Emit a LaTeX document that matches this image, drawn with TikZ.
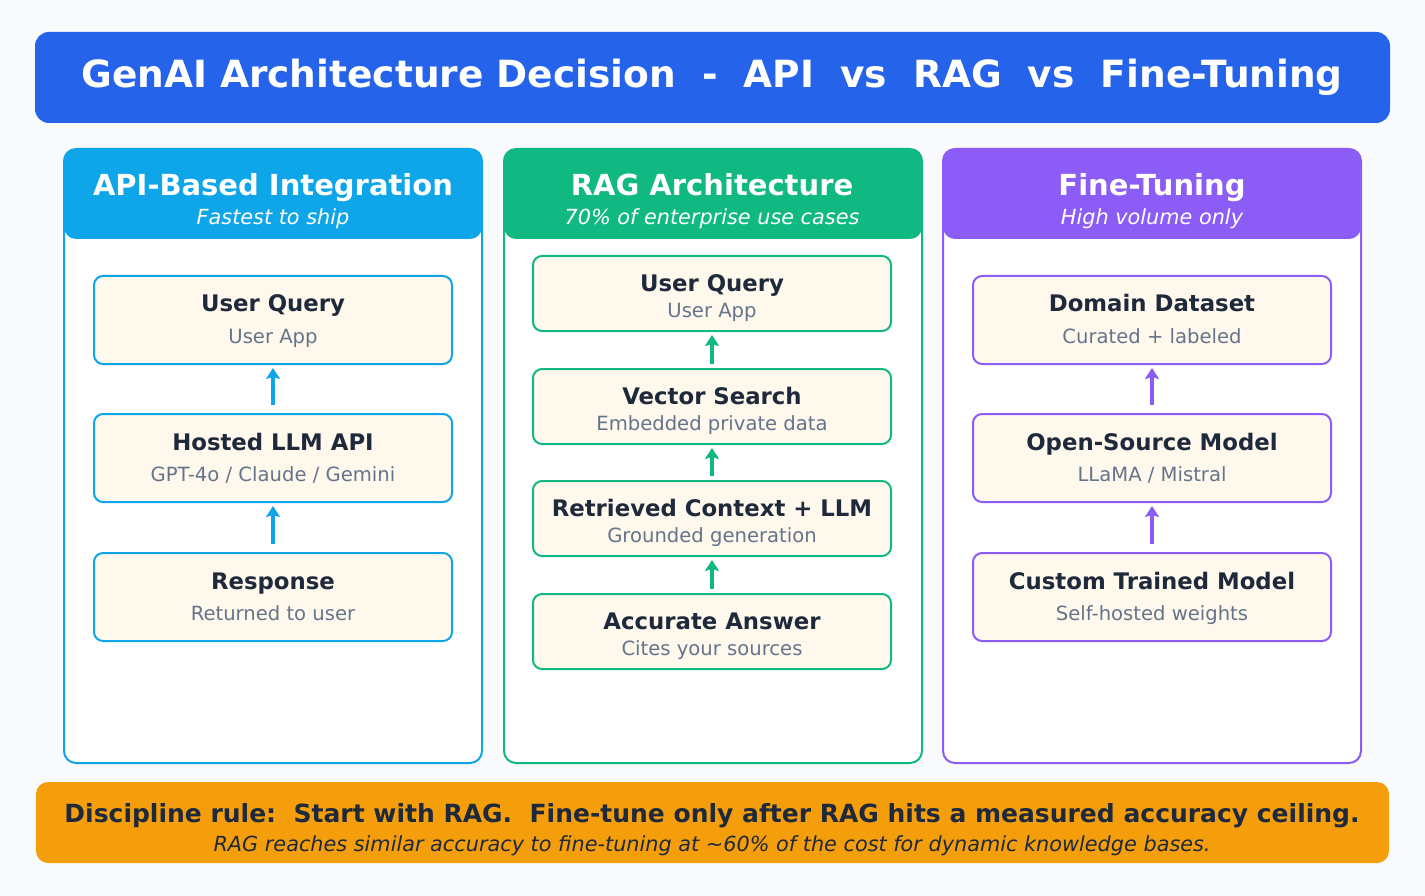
\documentclass[tikz,border=0pt]{standalone}
\usepackage{fontspec}
\setmainfont{DejaVu Sans}
\usetikzlibrary{arrows.meta}
\definecolor{bg}{HTML}{F8FAFC}
\definecolor{tb}{HTML}{2563EB}
\definecolor{ca}{HTML}{0EA5E9}
\definecolor{cb}{HTML}{10B981}
\definecolor{cc}{HTML}{8B5CF6}
\definecolor{ft}{HTML}{F59E0B}
\definecolor{bx}{HTML}{FFF8EC}
\definecolor{tt}{HTML}{1E293B}
\definecolor{st}{HTML}{64748B}
\begin{document}
\begin{tikzpicture}[x=1pt,y=-1pt,
 col/.style={draw=#1,line width=2pt,fill=white,rounded corners=12pt},
 hdr/.style={fill=#1,rounded corners=12pt},
 box/.style={draw=#1,line width=2pt,fill=bx,rounded corners=9pt,minimum width=358pt,inner sep=0pt},
 bt/.style={font=\fontsize{22.8}{26}\selectfont\bfseries,text=tt,anchor=base},
 bs/.style={font=\fontsize{19.6}{23}\selectfont,text=st,anchor=base},
 ht/.style={font=\fontsize{29}{33}\selectfont\bfseries,text=white,anchor=base},
 hs/.style={font=\fontsize{20.8}{24}\selectfont\itshape,text=white,anchor=base},
 arr/.style={draw=#1,line width=3.5pt,-{Stealth[length=11pt,width=14pt,inset=2pt]}}]
\fill[bg] (0,0) rectangle (1425,896);
\useasboundingbox (0,0) rectangle (1425,896);
\fill[tb,rounded corners=14pt] (35,32) rectangle (1390,123);
\node[font=\fontsize{37.5}{42}\selectfont\bfseries,text=white,anchor=base] (title) at (712,88) {GenAI Architecture Decision\ \ -\ \ API\ \ vs\ \ RAG\ \ vs\ \ Fine-Tuning};
% columns
\foreach \x/\c in {64/ca,504/cb,943/cc}{
 \draw[col=\c] (\x,149) rectangle (\x+418,763);
 \fill[hdr=\c] (\x,149) rectangle (\x+418,239);
}
\node[ht] (h1) at (273,196) {API-Based Integration};
\node[hs] (s1) at (273,225) {Fastest to ship};
\node[ht] (h2) at (712,196) {RAG Architecture};
\node[hs] (s2) at (712,225) {70\% of enterprise use cases};
\node[ht] (h3) at (1152,196) {Fine-Tuning};
\node[hs] (s3) at (1152,225) {High volume only};
% API column
\foreach \n/\y/\a/\b in {a1/320/{User Query}/{User App},a2/458/{Hosted LLM API}/{GPT-4o / Claude / Gemini},a3/597/{Response}/{Returned to user}}{
 \node[box=ca,minimum height=88pt] (\n) at (273,\y) {};
 \node[bt] at (273,\y-8) {\a};
 \node[bs] at (273,\y+23) {\b};
}
\foreach \n/\y/\a/\b in {c1/320/{Domain Dataset}/{Curated + labeled},c2/458/{Open-Source Model}/{LLaMA / Mistral},c3/597/{Custom Trained Model}/{Self-hosted weights}}{
 \node[box=cc,minimum height=88pt] (\n) at (1152,\y) {};
 \node[bt] at (1152,\y-8) {\a};
 \node[bs] at (1152,\y+23) {\b};
}
\foreach \n/\y/\a/\b in {b1/293.5/{User Query}/{User App},b2/406.5/{Vector Search}/{Embedded private data},b3/518.5/{Retrieved Context + LLM}/{Grounded generation},b4/631.5/{Accurate Answer}/{Cites your sources}}{
 \node[box=cb,minimum height=75pt] (\n) at (712,\y) {};
 \node[bt] at (712,\y-2) {\a};
 \node[bs] at (712,\y+24) {\b};
}
\draw[arr=ca] ([yshift=8pt]a2.north) -- ([yshift=-3pt]a1.south);
\draw[arr=ca] ([yshift=8pt]a3.north) -- ([yshift=-3pt]a2.south);
\draw[arr=cc] ([yshift=8pt]c2.north) -- ([yshift=-3pt]c1.south);
\draw[arr=cc] ([yshift=8pt]c3.north) -- ([yshift=-3pt]c2.south);
\draw[arr=cb] ([yshift=4pt]b2.north) -- ([yshift=-3pt]b1.south);
\draw[arr=cb] ([yshift=4pt]b3.north) -- ([yshift=-3pt]b2.south);
\draw[arr=cb] ([yshift=4pt]b4.north) -- ([yshift=-3pt]b3.south);
% footer
\fill[ft,rounded corners=12pt] (36,782) rectangle (1389,863);
\node[font=\fontsize{25}{29}\selectfont\bfseries,text=tt,anchor=base] (f1) at (712,822) {Discipline rule:\ \ Start with RAG.\ \ Fine-tune only after RAG hits a measured accuracy ceiling.};
\node[font=\fontsize{20.8}{24}\selectfont\itshape,text=tt,anchor=base] (f2) at (712,851) {RAG reaches similar accuracy to fine-tuning at \textasciitilde60\% of the cost for dynamic knowledge bases.};
\end{tikzpicture}
\end{document}
